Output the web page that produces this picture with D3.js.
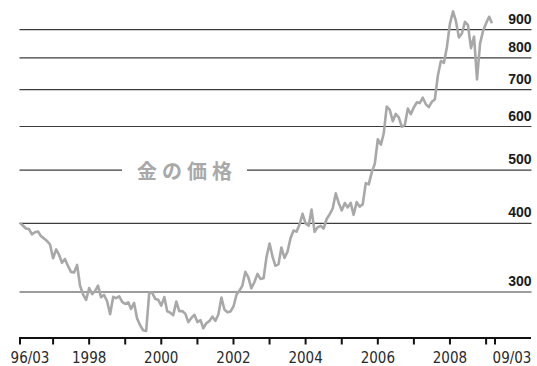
<!DOCTYPE html>
<html><head><meta charset="utf-8">
<script src="https://cdn.jsdelivr.net/npm/d3@7"></script>
<style>
html,body{margin:0;padding:0;background:#fff;}
svg{display:block;}
</style></head><body>
<svg id="chart" width="537" height="366"></svg>
<script>
// ---- data (monthly gold price, USD/oz), first month = 1996-02 ----
const startMonth = [1996, 1]; // year, zero-based month
const prices = [
  // 1996 Feb-Dec
  400.7, 396.4, 391.5, 390.6, 382.0, 385.3, 386.5, 379.0, 375.5, 371.3, 366.0,
  // 1997
  345.5, 358.6, 351.0, 339.0, 344.5, 334.6, 326.4, 325.4, 336.0, 308.0, 296.8, 290.2,
  // 1998
  304.9, 297.4, 301.0, 308.0, 293.6, 296.3, 288.9, 273.4, 293.9, 292.3, 294.7, 287.8,
  // 1999
  285.4, 287.3, 279.5, 286.6, 268.6, 261.0, 255.6, 254.8, 299.0, 299.1, 291.4, 290.3,
  // 2000
  283.3, 293.7, 276.8, 275.1, 272.3, 288.2, 276.8, 277.0, 273.7, 264.5, 269.1, 272.7,
  // 2001
  264.5, 266.7, 257.7, 263.2, 265.5, 270.6, 265.9, 273.0, 293.1, 278.8, 275.5, 276.5,
  // 2002
  282.3, 296.9, 301.4, 308.2, 326.6, 318.5, 304.7, 312.8, 323.7, 316.9, 317.7, 347.2,
  // 2003
  367.5, 347.5, 334.9, 336.8, 361.4, 346.0, 354.8, 375.6, 388.0, 386.3, 398.4, 416.3,
  // 2004
  399.8, 395.9, 423.7, 386.0, 393.3, 395.8, 391.4, 407.3, 415.7, 425.6, 453.4, 435.6,
  // 2005
  422.2, 435.5, 427.5, 435.7, 414.5, 437.1, 429.0, 433.3, 473.3, 470.8, 495.7, 513.0,
  // 2006
  568.8, 556.0, 582.0, 652.0, 644.0, 613.5, 632.5, 623.5, 599.3, 603.8, 646.7, 632.0,
  // 2007
  650.5, 664.2, 661.8, 677.0, 659.1, 650.5, 665.5, 672.0, 743.0, 789.5, 783.5, 836.5,
  // 2008
  923.3, 971.5, 933.5, 871.0, 885.8, 930.3, 918.0, 833.0, 874.0, 730.8, 850.0, 895.0,
  // 2009 Jan-Mar
  925.0, 950.0, 925.0
];
const gridValues = [300, 400, 500, 600, 700, 800, 900];
const gridLabels = ["300", "400", "500", "600", "700", "800", "900"];
const yearTicks = [1997, 1998, 1999, 2000, 2001, 2002, 2003, 2004, 2005, 2006, 2007, 2008, 2009];
const labeledYears = [1998, 2000, 2002, 2004, 2006, 2008];
const startLabel = "96/03";
const endLabel = "09/03";
const titleText = "金の価格";
const titleValue = 500;

// ---- scales ----
const svg = d3.select("#chart");
const x = d3.scaleUtc()
  .domain([new Date(Date.UTC(1996, 1, 1)), new Date(Date.UTC(2009, 3, 1))])
  .range([20, 495]);
const y = d3.scaleLog().domain([300, 900]).range([292, 29.7]);

const data = prices.map((v, i) => ({
  date: d3.utcMonth.offset(new Date(Date.UTC(startMonth[0], startMonth[1], 1)), i),
  value: v
}));

const gridLeft = 19.5, gridRight = 531.5;
const axisY = 338;

// ---- title (measured first, to cut the line behind it) ----
const title = svg.append("text")
  .attr("x", 137)
  .attr("y", y(titleValue))
  .attr("dominant-baseline", "central")
  .attr("font-family", "'Noto Sans CJK JP', 'Noto Sans CJK SC', sans-serif")
  .attr("font-weight", "bold")
  .attr("font-size", 20)
  .attr("letter-spacing", "5px")
  .attr("fill", "#a9a9a9")
  .text(titleText);
const tb = title.node().getBBox();
const tLeft = tb.x, tRight = tb.x + tb.width - 5;

// ---- grid lines ----
const grid = svg.append("g").attr("class", "grid");
gridValues.forEach(v => {
  const yy = y(v);
  if (v === titleValue) {
    grid.append("line").attr("x1", gridLeft).attr("x2", tLeft - 15).attr("y1", yy).attr("y2", yy);
    grid.append("line").attr("x1", tRight + 15).attr("x2", gridRight).attr("y1", yy).attr("y2", yy);
  } else {
    grid.append("line").attr("x1", gridLeft).attr("x2", gridRight).attr("y1", yy).attr("y2", yy);
  }
});
grid.selectAll("line").attr("stroke", "#3c3c3c").attr("stroke-width", 1.2);

// ---- right value labels ----
svg.append("g").selectAll("text")
  .data(gridValues)
  .join("text")
  .attr("x", 531.5)
  .attr("y", d => y(d) - 6)
  .attr("text-anchor", "end")
  .attr("font-family", "'Liberation Sans', Arial, sans-serif")
  .attr("font-weight", "bold")
  .attr("font-size", 14)
  .attr("fill", "#1a1a1a")
  .text((d, i) => gridLabels[i]);

// ---- price line ----
svg.append("path")
  .datum(data)
  .attr("fill", "none")
  .attr("stroke", "#a8a8a8")
  .attr("stroke-width", 2.6)
  .attr("stroke-linejoin", "round")
  .attr("d", d3.line().x(d => x(d.date)).y(d => y(d.value)));

// ---- x axis ----
const tickDates = [x.domain()[0]]
  .concat(yearTicks.map(yr => new Date(Date.UTC(yr, 0, 1))))
  .concat([x.domain()[1]]);
const axisG = svg.append("g").attr("transform", `translate(0,${axisY})`);
axisG.append("line")
  .attr("x1", 19).attr("x2", 531)
  .attr("y1", 0).attr("y2", 0)
  .attr("stroke", "#111").attr("stroke-width", 2);
axisG.selectAll("line.tick")
  .data(tickDates)
  .join("line")
  .attr("class", "tick")
  .attr("x1", d => x(d)).attr("x2", d => x(d))
  .attr("y1", 0).attr("y2", 6.5)
  .attr("stroke", "#111").attr("stroke-width", 2);

const labelFont = "'Liberation Sans Narrow', 'Arial Narrow', 'DejaVu Sans Condensed', sans-serif";
const xLabels = labeledYears.map(yr => ({ date: new Date(Date.UTC(yr, 0, 1)), text: String(yr), dx: 0 }))
  .concat([
    { date: x.domain()[0], text: startLabel, dx: 10 },
    { date: x.domain()[1], text: endLabel, dx: 17 }
  ]);
axisG.selectAll("text")
  .data(xLabels)
  .join("text")
  .attr("x", d => x(d.date) + d.dx)
  .attr("y", 24.5)
  .attr("text-anchor", "middle")
  .attr("font-family", labelFont)
  .attr("font-size", 15)
  .attr("fill", "#2a2a2a")
  .text(d => d.text);
</script>
</body></html>
